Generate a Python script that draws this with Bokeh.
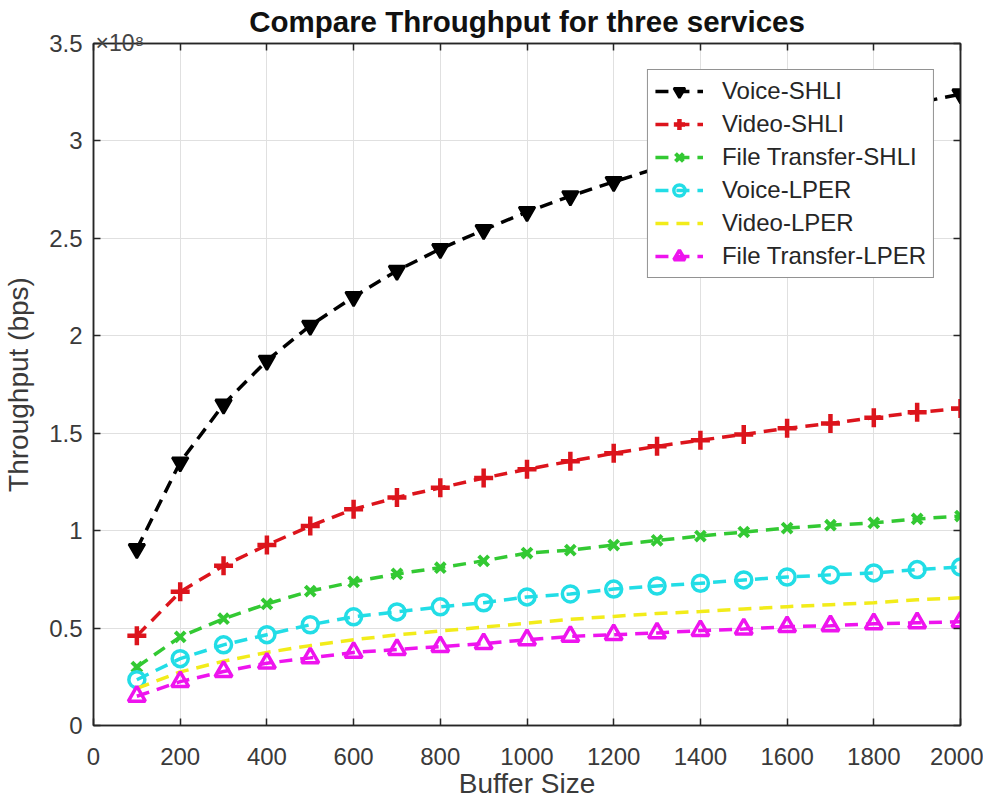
from bokeh.plotting import figure
from bokeh.models import (FixedTicker, CustomJSTickFormatter, LinearAxis, Legend,
                          LegendItem, Range1d, Title)
from bokeh.embed import file_html
from bokeh.resources import INLINE

buffer_size = [100, 200, 300, 400, 500, 600, 700, 800, 900, 1000,
               1100, 1200, 1300, 1400, 1500, 1600, 1700, 1800, 1900, 2000]

# throughput in units of 1e8 bps
voice_shli = [0.906, 1.351, 1.648, 1.873, 2.052, 2.200, 2.334, 2.446, 2.543, 2.636,
              2.717, 2.790, 2.860, 2.925, 2.985, 3.040, 3.095, 3.145, 3.195, 3.240]
video_shli = [0.460, 0.686, 0.820, 0.926, 1.024, 1.110, 1.170, 1.220, 1.270, 1.315,
              1.356, 1.397, 1.433, 1.464, 1.494, 1.525, 1.550, 1.580, 1.607, 1.627]
file_shli = [0.300, 0.455, 0.548, 0.624, 0.690, 0.737, 0.778, 0.810, 0.845, 0.885,
             0.900, 0.926, 0.950, 0.972, 0.993, 1.013, 1.028, 1.040, 1.060, 1.075]
voice_lper = [0.235, 0.343, 0.414, 0.466, 0.517, 0.558, 0.583, 0.609, 0.630, 0.660,
              0.675, 0.700, 0.716, 0.730, 0.747, 0.762, 0.773, 0.783, 0.800, 0.813]
video_lper = [0.190, 0.275, 0.330, 0.375, 0.410, 0.440, 0.465, 0.485, 0.505, 0.525,
              0.545, 0.560, 0.575, 0.585, 0.598, 0.610, 0.620, 0.630, 0.645, 0.655]
file_lper = [0.150, 0.225, 0.277, 0.320, 0.347, 0.375, 0.390, 0.405, 0.420, 0.440,
             0.457, 0.466, 0.475, 0.487, 0.495, 0.507, 0.512, 0.522, 0.527, 0.532]

x_ticks = [0, 200, 400, 600, 800, 1000, 1200, 1400, 1600, 1800, 2000]
y_ticks = [0, 0.5, 1, 1.5, 2, 2.5, 3, 3.5]
y_multiplier = "×10⁸"
title_text = "Compare Throughput for three services"

FONT = "Liberation Sans"
AX = "#262626"

W, H = 983, 801
p = figure(width=W, height=H, output_backend="svg", toolbar_location=None,
           title=None,
           x_range=Range1d(0, 2000), y_range=Range1d(0, 3.5),
           min_border_left=93, min_border_right=23, min_border_top=42,
           min_border_bottom=75)

p.outline_line_color = AX
p.outline_line_width = 1.5
p.background_fill_color = "white"
p.border_fill_color = "white"

fmt = CustomJSTickFormatter(code="return tick.toString();")

for ax in [p.xaxis[0], p.yaxis[0]]:
    ax.major_tick_in = 7
    ax.major_tick_out = 0
    ax.minor_tick_line_color = None
    ax.axis_line_color = AX
    ax.axis_line_width = 1.5
    ax.major_tick_line_color = AX
    ax.major_tick_line_width = 1.5
    ax.major_label_text_font = FONT
    ax.major_label_text_font_size = "24px"
    ax.major_label_text_color = "#3a3a3a"
    ax.axis_label_text_font = FONT
    ax.axis_label_text_font_size = "28px"
    ax.axis_label_text_font_style = "normal"
    ax.axis_label_text_color = "#3a3a3a"
    ax.formatter = fmt

p.xaxis[0].ticker = FixedTicker(ticks=x_ticks)
p.yaxis[0].ticker = FixedTicker(ticks=y_ticks)
p.xaxis[0].axis_label = "Buffer Size"
p.yaxis[0].axis_label = "Throughput (bps)"
p.xaxis[0].major_label_standoff = 22
p.xaxis[0].axis_label_standoff = 0
p.yaxis[0].major_label_standoff = 11
p.yaxis[0].axis_label_standoff = 12

blank = CustomJSTickFormatter(code="return '';")
top_ax = LinearAxis(ticker=FixedTicker(ticks=x_ticks), formatter=blank,
                    major_label_text_color=None,
                    major_tick_in=7, major_tick_out=0, minor_tick_line_color=None,
                    axis_line_color=AX, axis_line_width=1.5,
                    major_tick_line_color=AX, major_tick_line_width=1.5,
                    major_label_standoff=0)
right_ax = LinearAxis(ticker=FixedTicker(ticks=y_ticks), formatter=blank,
                      major_label_text_color=None,
                      major_tick_in=7, major_tick_out=0, minor_tick_line_color=None,
                      axis_line_color=AX, axis_line_width=1.5,
                      major_tick_line_color=AX, major_tick_line_width=1.5,
                      major_label_standoff=0)
p.add_layout(top_ax, "above")
p.add_layout(right_ax, "right")

# multiplier sits next to the frame, the main title outside it; the small
# (negative) standoff of the multiplier lets both share one row
mult_title = Title(text=y_multiplier, align="left", offset=2, standoff=-24,
                   vertical_align="bottom",
                   text_font=FONT, text_font_size="23px", text_font_style="normal",
                   text_color="#444444")
p.add_layout(mult_title, "above")
main_title = Title(text=title_text, align="center", offset=0, standoff=4,
                   text_font=FONT, text_font_size="29.5px", text_font_style="bold",
                   text_color="#111111")
p.add_layout(main_title, "above")

p.xgrid.ticker = FixedTicker(ticks=x_ticks)
p.ygrid.ticker = FixedTicker(ticks=y_ticks)
p.grid.grid_line_color = "#e0e0e0"
p.grid.grid_line_width = 1

DASH = "13 8"
items = []

def series(label, ys, color, marker, msize, filled, lw_m):
    r_line = p.line(buffer_size, ys, line_color=color, line_width=3.5, line_dash=DASH)
    rs = [r_line]
    if marker is not None:
        kw = dict(size=msize, line_color=color, line_width=lw_m)
        kw["fill_color"] = color if filled else None
        r_m = p.scatter(buffer_size, ys, marker=marker, **kw)
        rs.append(r_m)
    items.append(LegendItem(label=label, renderers=rs))

series("Voice-SHLI", voice_shli, "#000000", "inverted_triangle", 16, True, 2.5)
series("Video-SHLI", video_shli, "#dc141c", "cross", 19, False, 4.5)
series("File Transfer-SHLI", file_shli, "#33c933", "x", 14, False, 4)
series("Voice-LPER", voice_lper, "#22dde6", "circle", 16, False, 3.5)
series("Video-LPER", video_lper, "#f2ec1a", None, 0, False, 0)
series("File Transfer-LPER", file_lper, "#ee14ee", "triangle", 17, False, 3.5)

legend = Legend(items=items, location="top_right")
legend.label_text_font = FONT
legend.label_text_font_size = "24px"
legend.label_text_color = "#262626"
legend.border_line_color = AX
legend.border_line_width = 1.5
legend.background_fill_color = "white"
legend.background_fill_alpha = 1
legend.glyph_width = 48
legend.glyph_height = 28
legend.label_height = 28
legend.label_standoff = 19
legend.spacing = 5
legend.padding = 7
legend.margin = 26
p.add_layout(legend)

open("out.html", "w").write(file_html(p, INLINE))
